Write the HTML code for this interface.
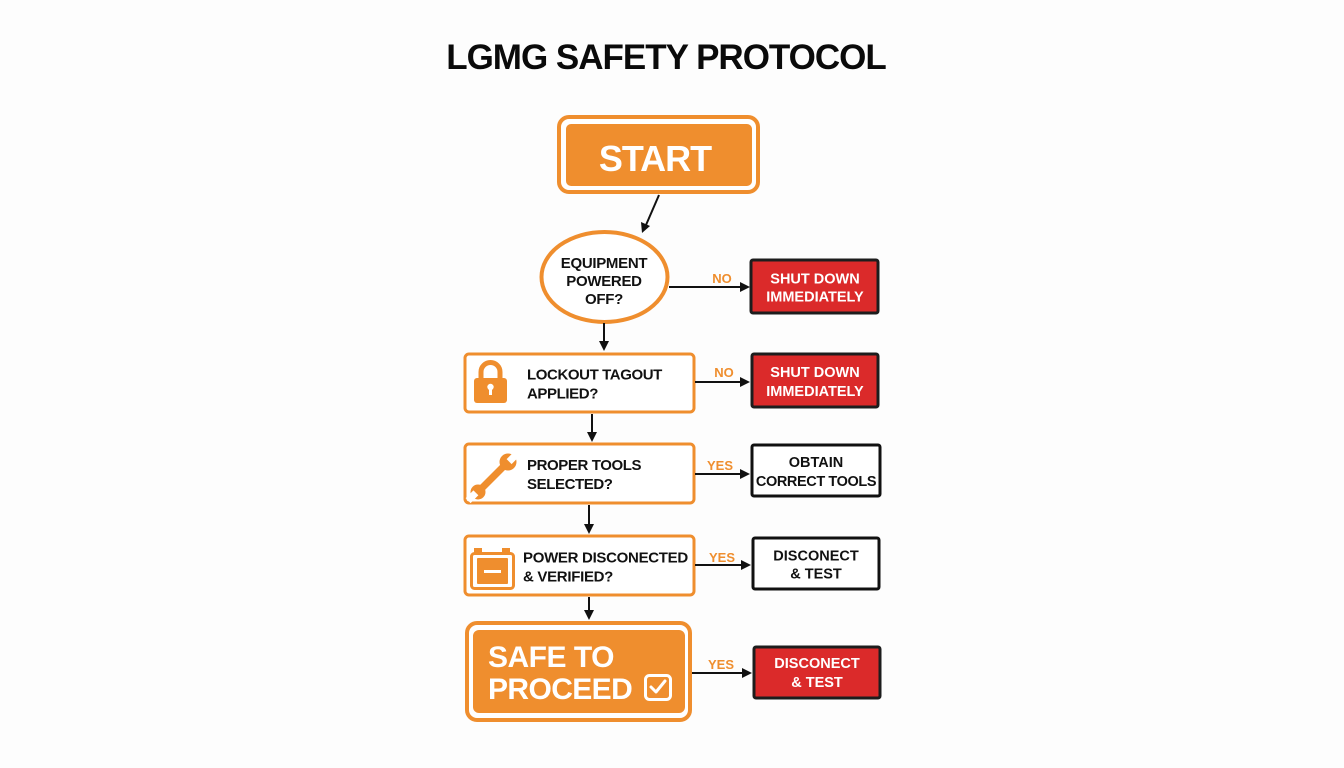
<!DOCTYPE html>
<html>
<head>
<meta charset="utf-8">
<style>
  html,body{margin:0;padding:0;background:#fdfdfd;}
  svg{display:block;}
  text{font-family:"Liberation Sans",Arial,sans-serif;font-weight:bold;}
</style>
</head>
<body>
<svg width="1344" height="768" viewBox="0 0 1344 768" xmlns="http://www.w3.org/2000/svg">
  <rect width="1344" height="768" fill="#fdfdfd"/>

  <!-- Title -->
  <text x="666" y="69" font-size="35" text-anchor="middle" letter-spacing="-1" fill="#0a0a0a">LGMG SAFETY PROTOCOL</text>

  <!-- START -->
  <rect x="559" y="117" width="199" height="75" rx="10" fill="#fff" stroke="#ef8e2e" stroke-width="4"/>
  <rect x="566" y="124" width="186" height="62" rx="5" fill="#ef8e2e"/>
  <text x="655" y="171" font-size="36" text-anchor="middle" letter-spacing="-1" fill="#fff">START</text>

  <!-- arrow start -> ellipse -->
  <line x1="659" y1="195" x2="646" y2="225" stroke="#111" stroke-width="2"/>
  <polygon points="642,233 641,222 650,226" fill="#111"/>

  <!-- Ellipse -->
  <ellipse cx="604.5" cy="277" rx="63" ry="45" fill="#fff" stroke="#ef8e2e" stroke-width="4"/>
  <text x="604" y="268" font-size="15" text-anchor="middle" letter-spacing="-0.3" fill="#111">EQUIPMENT</text>
  <text x="604" y="286" font-size="15" text-anchor="middle" letter-spacing="-0.3" fill="#111">POWERED</text>
  <text x="604" y="304" font-size="15" text-anchor="middle" letter-spacing="-0.3" fill="#111">OFF?</text>

  <!-- NO 1 -->
  <line x1="669" y1="287" x2="741" y2="287" stroke="#111" stroke-width="2"/>
  <polygon points="750,287 740,282 740,292" fill="#111"/>
  <text x="722" y="283" font-size="13" text-anchor="middle" fill="#ef8e2e">NO</text>
  <rect x="751" y="260" width="127" height="53" rx="2" fill="#db2a2a" stroke="#1d1d1d" stroke-width="3"/>
  <text x="815" y="283.5" font-size="14.5" text-anchor="middle" fill="#fff">SHUT DOWN</text>
  <text x="815" y="301.5" font-size="14.5" text-anchor="middle" fill="#fff">IMMEDIATELY</text>

  <!-- arrow ellipse -> lockout -->
  <line x1="604" y1="323" x2="604" y2="343" stroke="#111" stroke-width="2"/>
  <polygon points="604,351 599,341 609,341" fill="#111"/>

  <!-- LOCKOUT box -->
  <rect x="465" y="354" width="229" height="58" rx="4" fill="#fff" stroke="#ef8e2e" stroke-width="3"/>
  <path d="M481 380 V372 A9.5 9.5 0 0 1 500 372 V380" fill="none" stroke="#ef8e2e" stroke-width="5"/>
  <rect x="474" y="378" width="33" height="25" rx="3" fill="#ef8e2e"/>
  <circle cx="490.5" cy="387" r="3.2" fill="#fff"/>
  <rect x="489" y="387" width="3" height="8" fill="#fff"/>
  <text x="527" y="379.5" font-size="15" letter-spacing="-0.4" fill="#111">LOCKOUT TAGOUT</text>
  <text x="527" y="398.5" font-size="15" letter-spacing="-0.4" fill="#111">APPLIED?</text>

  <!-- NO 2 -->
  <line x1="695" y1="382" x2="741" y2="382" stroke="#111" stroke-width="2"/>
  <polygon points="750,382 740,377 740,387" fill="#111"/>
  <text x="724" y="377" font-size="13" text-anchor="middle" fill="#ef8e2e">NO</text>
  <rect x="752" y="354" width="126" height="53" rx="2" fill="#db2a2a" stroke="#1d1d1d" stroke-width="3"/>
  <text x="815" y="377" font-size="14.5" text-anchor="middle" fill="#fff">SHUT DOWN</text>
  <text x="815" y="396" font-size="14.5" text-anchor="middle" fill="#fff">IMMEDIATELY</text>

  <!-- arrow lockout -> tools -->
  <line x1="592" y1="414" x2="592" y2="433" stroke="#111" stroke-width="2"/>
  <polygon points="592,442 587,432 597,432" fill="#111"/>

  <!-- TOOLS box -->
  <rect x="465" y="444" width="229" height="59" rx="4" fill="#fff" stroke="#ef8e2e" stroke-width="3"/>
  <g fill="#ef8e2e" stroke="none">
    <line x1="479" y1="491" x2="506" y2="464" stroke="#ef8e2e" stroke-width="7" stroke-linecap="round"/>
    <circle cx="508" cy="462" r="8.5"/>
    <circle cx="478" cy="492" r="7.5"/>
  </g>
  <rect x="510" y="451" width="7" height="12" fill="#fff" transform="rotate(45 513 457)"/>
  <rect x="469" y="491" width="7" height="11" fill="#fff" transform="rotate(45 472 496)"/>
  <text x="527" y="470" font-size="15" letter-spacing="-0.4" fill="#111">PROPER TOOLS</text>
  <text x="527" y="489" font-size="15" letter-spacing="-0.4" fill="#111">SELECTED?</text>

  <!-- YES 1 -->
  <line x1="695" y1="474" x2="741" y2="474" stroke="#111" stroke-width="2"/>
  <polygon points="750,474 740,469 740,479" fill="#111"/>
  <text x="720" y="470" font-size="13" text-anchor="middle" fill="#ef8e2e">YES</text>
  <rect x="752" y="445" width="128" height="51" rx="2" fill="#fff" stroke="#111" stroke-width="3"/>
  <text x="816" y="467" font-size="14.5" text-anchor="middle" fill="#111">OBTAIN</text>
  <text x="816" y="486" font-size="14.5" text-anchor="middle" letter-spacing="-0.4" fill="#111">CORRECT TOOLS</text>

  <!-- arrow tools -> power -->
  <line x1="589" y1="505" x2="589" y2="525" stroke="#111" stroke-width="2"/>
  <polygon points="589,534 584,524 594,524" fill="#111"/>

  <!-- POWER box -->
  <rect x="465" y="536" width="229" height="59" rx="4" fill="#fff" stroke="#ef8e2e" stroke-width="3"/>
  <rect x="474" y="548" width="8" height="6" fill="#ef8e2e"/>
  <rect x="502" y="548" width="8" height="6" fill="#ef8e2e"/>
  <rect x="471.5" y="553.5" width="42" height="35" rx="3" fill="#fff" stroke="#ef8e2e" stroke-width="3"/>
  <rect x="477" y="558" width="31" height="26" rx="1" fill="#ef8e2e"/>
  <rect x="484" y="570" width="17" height="3" fill="#fff"/>
  <text x="523" y="562.5" font-size="15" letter-spacing="-0.3" fill="#111">POWER DISCONECTED</text>
  <text x="523" y="581.5" font-size="15" letter-spacing="-0.3" fill="#111">&amp; VERIFIED?</text>

  <!-- YES 2 -->
  <line x1="695" y1="565" x2="742" y2="565" stroke="#111" stroke-width="2"/>
  <polygon points="751,565 741,560 741,570" fill="#111"/>
  <text x="722" y="562" font-size="13" text-anchor="middle" fill="#ef8e2e">YES</text>
  <rect x="753" y="538" width="126" height="51" rx="2" fill="#fff" stroke="#111" stroke-width="3"/>
  <text x="816" y="560.5" font-size="14.5" text-anchor="middle" fill="#111">DISCONECT</text>
  <text x="816" y="578.5" font-size="14.5" text-anchor="middle" fill="#111">&amp; TEST</text>

  <!-- arrow power -> safe -->
  <line x1="589" y1="597" x2="589" y2="611" stroke="#111" stroke-width="2"/>
  <polygon points="589,620 584,610 594,610" fill="#111"/>

  <!-- SAFE TO PROCEED -->
  <rect x="467" y="623" width="223" height="97" rx="10" fill="#fff" stroke="#ef8e2e" stroke-width="4"/>
  <rect x="473" y="630" width="212" height="83" rx="6" fill="#ef8e2e"/>
  <text x="488" y="667" font-size="30" letter-spacing="-0.5" fill="#fff">SAFE TO</text>
  <text x="488" y="699" font-size="30" letter-spacing="-0.6" fill="#fff">PROCEED</text>
  <rect x="645.5" y="675.5" width="25" height="24" rx="4" fill="none" stroke="#fff" stroke-width="3"/>
  <polyline points="651,687 656,692 665,681" fill="none" stroke="#fff" stroke-width="3" stroke-linecap="round" stroke-linejoin="round"/>

  <!-- YES 3 -->
  <line x1="692" y1="673" x2="743" y2="673" stroke="#111" stroke-width="2"/>
  <polygon points="752,673 742,668 742,678" fill="#111"/>
  <text x="721" y="669" font-size="13" text-anchor="middle" fill="#ef8e2e">YES</text>
  <rect x="754" y="647" width="126" height="51" rx="2" fill="#db2a2a" stroke="#1d1d1d" stroke-width="3"/>
  <text x="817" y="668" font-size="14.5" text-anchor="middle" fill="#fff">DISCONECT</text>
  <text x="817" y="687" font-size="14.5" text-anchor="middle" fill="#fff">&amp; TEST</text>
</svg>
</body>
</html>
